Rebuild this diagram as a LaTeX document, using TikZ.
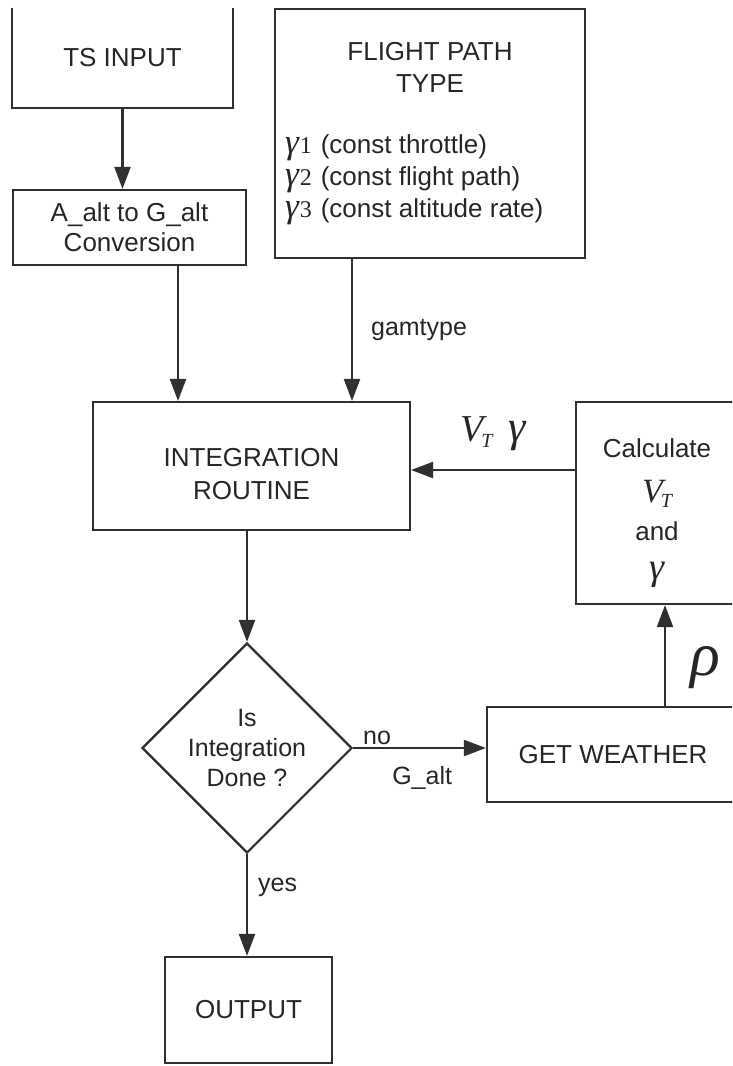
\documentclass[tikz,border=0pt]{standalone}
\usepackage{fontspec}
\setmainfont{Liberation Sans}
\newfontfamily\serifface{Liberation Serif}
\usetikzlibrary{shapes.geometric,arrows.meta,calc}

\definecolor{linec}{HTML}{303030}
\definecolor{textc}{HTML}{262626}

% italic serif symbols
\newcommand\gsub[1]{{\fontsize{35}{32}\serifface\itshape γ}\kern1pt{\fontsize{24}{32}\serifface #1}\kern9pt}
\newcommand\VTsym[2]{{\fontsize{#1}{#1}\serifface\itshape V\kern-2pt\raisebox{-#2}{\fontsize{20}{20}\selectfont T}}}
\newcommand\gsym[1]{{\fontsize{#1}{#1}\serifface\itshape γ}}

\begin{document}
\begin{tikzpicture}[x=1pt,y=-1pt,
  box/.style={draw=linec, line width=2.2pt, rectangle, inner sep=0pt,
    align=center, text=textc, font=\fontsize{26}{32}\selectfont},
  edge/.style={draw=linec, line width=2.2pt},
  arr/.style={edge, -{Triangle[length=22pt,width=16pt]}},
  lbl/.style={text=textc, font=\fontsize{25}{30}\selectfont, inner sep=2pt}]
\useasboundingbox (0,0) rectangle (732,1066);
\clip (0,0) rectangle (732,1066);

% input block, open at the top
\node[box, draw=none, minimum width=219pt, minimum height=98pt] (ts) at (122.5,58) {TS INPUT};
\draw[edge] (ts.north west) -- (ts.south west) -- (ts.south east) -- (ts.north east);

\node[box, minimum width=233pt, minimum height=75pt,
  font=\fontsize{26}{30}\selectfont] (conv) at (129.5,227.5) {A\_alt to G\_alt\\Conversion};

\node[box, minimum width=310pt, minimum height=249pt] (flight) at (430,133.5)
  {\parbox{290pt}{\centering FLIGHT PATH\\TYPE\par\vspace{29pt}\raggedright
   \gsub{1}(const throttle)\\ \gsub{2}(const flight path)\\ \gsub{3}(const altitude rate)}};

\node[box, minimum width=317pt, minimum height=128pt, font=\fontsize{26}{33}\selectfont]
  (integ) at (251.5,466) {\rule{0pt}{34pt}INTEGRATION\\ROUTINE};

\node[draw=linec, line width=2.2pt, diamond, minimum width=210pt, minimum height=210pt,
  inner sep=0pt, align=center, text=textc, font=\fontsize{25}{30}\selectfont]
  (dec) at (247,748) {Is\\Integration\\Done ?};

\node[box, minimum width=252pt, minimum height=95pt] (wx) at (613,754.5) {GET WEATHER};

\node[box, minimum width=162pt, minimum height=202pt] (calc) at (657,503)
  {\rule{0pt}{40pt}Calculate\\[13pt]\VTsym{34}{5pt}\\[6pt]and\\[7pt]\gsym{38}};

\node[box, minimum width=167pt, minimum height=106pt] (out) at (248.5,1010) {OUTPUT};

% connectors
\draw[arr] (ts.south) -- (ts.south |- conv.north);
\draw[arr] ([xshift=48.5pt]conv.south) -- ([xshift=48.5pt]conv.south |- integ.north);
\draw[arr] ([xshift=-78pt]flight.south) --
  node[lbl, right=16pt, pos=0.5] {gamtype} ([xshift=-78pt]flight.south |- integ.north);
\draw[arr] (dec.north |- integ.south) -- (dec.north);
\draw[arr] (dec.east) --
  node[lbl, above, pos=0.18] {no}
  node[lbl, below=15pt, pos=0.52] {G\_alt} (dec.east -| wx.west);
\draw[arr] ([xshift=52pt]wx.north) --
  node[text=textc, anchor=west, pos=0.38, xshift=24pt, inner sep=0pt,
    font=\fontsize{62}{62}\serifface\itshape] {ρ}
  ([xshift=52pt]wx.north |- calc.south);
\draw[arr] ([yshift=33pt]calc.west) --
  node[text=textc, above=18pt, pos=0.5, inner sep=0pt]
    {\VTsym{38}{6pt}\hspace{16pt}\gsym{44}}
  ([yshift=33pt]calc.west -| integ.east);
\draw[arr] (dec.south) --
  node[lbl, right=8pt, pos=0.33] {yes} (dec.south |- out.north);
\end{tikzpicture}
\end{document}
